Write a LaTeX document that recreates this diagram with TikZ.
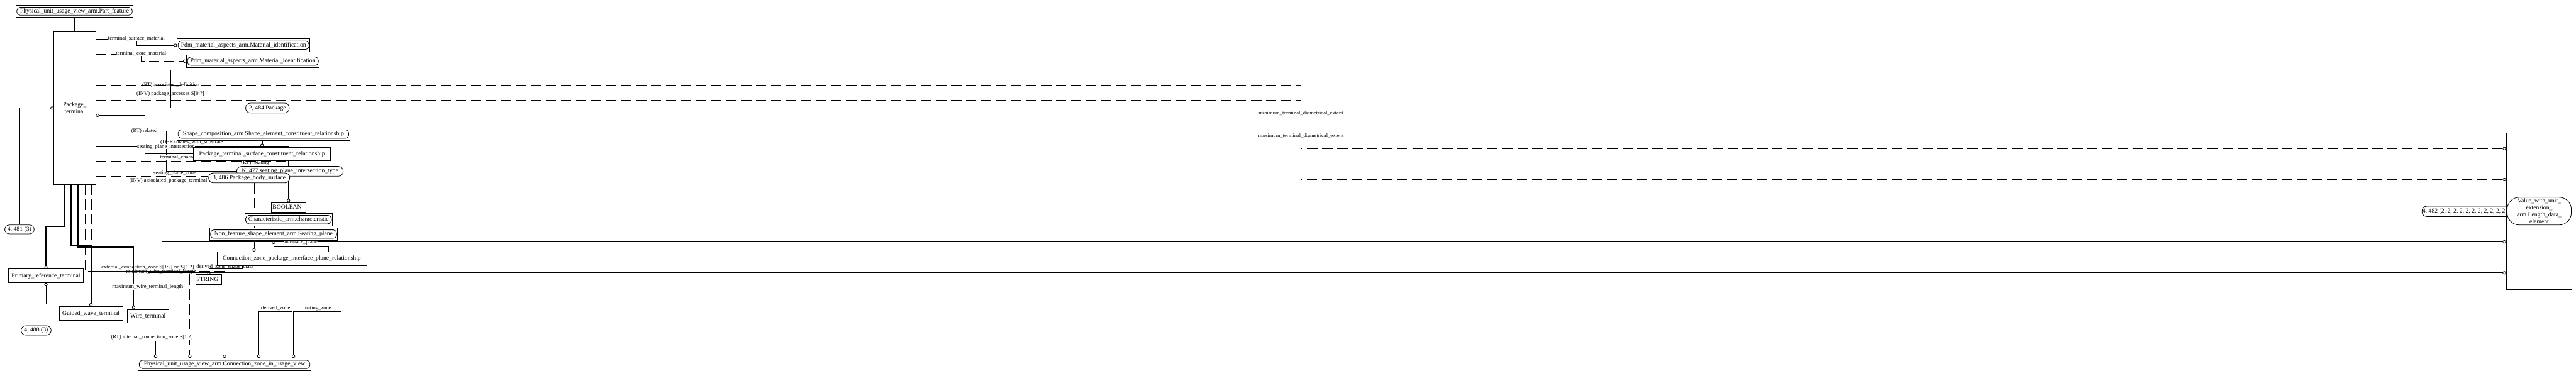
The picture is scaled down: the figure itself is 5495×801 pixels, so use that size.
\documentclass[tikz,border=0pt]{standalone}
\usepackage{fontspec}
\setmainfont{Liberation Serif}
\usetikzlibrary{arrows.meta,positioning}
\pgfdeclarelayer{bg}
\pgfsetlayers{bg,main}
\newcommand{\nodefont}{\fontsize{13}{15}\selectfont}
\newcommand{\lblfont}{\fontsize{11.5}{13}\selectfont}
\tikzset{
  ent/.style={draw, fill=white, line width=1.1pt, font=\nodefont, inner sep=1pt, align=center},
  refent/.style={ent, path picture={\draw[line width=1.1pt, rounded corners=7pt] ([xshift=2pt,yshift=-4.5pt]path picture bounding box.north west) rectangle ([xshift=-2pt,yshift=4.5pt]path picture bounding box.south east);}},
  pageref/.style={ent, rounded corners=10pt},
  simpletype/.style={ent, path picture={\draw[line width=1.1pt] ([xshift=-6pt]path picture bounding box.north east) -- ([xshift=-6pt]path picture bounding box.south east);}},
  rel/.style={line width=1.1pt},
  opt/.style={rel, dash pattern=on 22pt off 10pt},
  subt/.style={line width=2.4pt},
  oc/.style={-{Circle[open, length=7pt, line width=1.1pt]}},
  lbl/.style={font=\lblfont, inner sep=0.6pt, anchor=base, fill=white},
  lblx/.style={font=\lblfont, inner sep=0pt, anchor=base},
}

\begin{document}
\begin{tikzpicture}[x=1pt, y=-1pt]
  \useasboundingbox (0,0) rectangle (5495,801);

  % Package_terminal and its supertype
  \node[refent, minimum width=250pt, minimum height=26pt] (partfeat) at (159,24) {Physical\_unit\_usage\_view\_arm.Part\_feature};
  \node[ent, minimum width=89pt, minimum height=325pt] (pkgterm) at (159.5,230.5) {Package\_\\terminal};

  % referenced entities, upper part
  \node[refent, minimum width=283pt, minimum height=27pt] (pdmA) at (519.5,96.5) {Pdm\_material\_aspects\_arm.Material\_identification};
  \node[refent, minimum width=283pt, minimum height=27pt] (pdmB) at (539.5,130.5) {Pdm\_material\_aspects\_arm.Material\_identification};
  \node[pageref, minimum width=93pt, minimum height=21pt] (pkgref) at (570.5,230.5) {2, 484 Package};
  \node[refent, minimum width=368pt, minimum height=27pt] (shapecomp) at (562,286) {Shape\_composition\_arm.Shape\_element\_constituent\_relationship};
  \node[ent, minimum width=292pt, minimum height=29pt] (ptscr) at (559,328.5) {Package\_terminal\_surface\_constituent\_relationship};
  \node[pageref, minimum width=227pt, minimum height=21pt] (spit) at (618.5,365.5) {N\_477 seating\_plane\_intersection\_type};
  \node[pageref, minimum width=173pt, minimum height=21pt] (pbs) at (531.5,379.5) {3, 486 Package\_body\_surface};
  \node[simpletype, minimum width=73pt, minimum height=20pt] (boolean) at (615.5,442) {BOOLEAN\hspace{6pt}};
  \node[refent, minimum width=187pt, minimum height=27pt] (charac) at (615.5,468.5) {Characteristic\_arm.characteristic};
  \node[refent, minimum width=273pt, minimum height=27pt] (seatplane) at (583.5,499.5) {Non\_feature\_shape\_element\_arm.Seating\_plane};
  \node[ent, minimum width=319pt, minimum height=30pt] (czpipr) at (622.5,552) {Connection\_zone\_package\_interface\_plane\_relationship};
  \node[simpletype, minimum width=55pt, minimum height=21pt] (string) at (445.5,596.5) {STRING\hspace{6pt}};
  \node[refent, minimum width=368pt, minimum height=27pt] (czusage) at (479,777.5) {Physical\_unit\_usage\_view\_arm.Connection\_zone\_in\_usage\_view};

  % subtypes
  \node[ent, minimum width=160pt, minimum height=29pt] (primref) at (98,588.5) {Primary\_reference\_terminal};
  \node[ent, minimum width=136pt, minimum height=29pt] (guided) at (194,668.5) {Guided\_wave\_terminal};
  \node[ent, minimum width=89pt, minimum height=29pt] (wireterm) at (315.5,674.5) {Wire\_terminal};
  \node[pageref, minimum width=63pt, minimum height=19pt] (ref481) at (41.5,489.5) {4, 481 (3)};
  \node[pageref, minimum width=64pt, minimum height=20pt] (ref488) at (77,705) {4, 488 (3)};

  % length data element, far right
  \node[pageref, anchor=west, minimum height=22pt] (ref482) at (5166,451) {4, 482 (2, 2, 2, 2, 2, 2, 2, 2, 2, 2, 2, 2};
  \node[ent, minimum width=140pt, minimum height=333pt] (lengthbox) at (5416,450.5) {};
  \node[ent, rounded corners=26pt, minimum width=137pt, minimum height=59pt, inner sep=0pt] (lengthlbl) at (5416.5,450.5) {Value\_with\_unit\_\\extension\_\\arm.Length\_data\_\\element};

  \begin{pgfonlayer}{bg}
    % subtype lines
    \draw[subt] (pkgterm.north |- partfeat.south) -- (pkgterm.north);
    \draw[subt, oc] (ptscr.north |- shapecomp.south) -- (ptscr.north);
    \draw[subt, oc] (pkgterm.south -| 137,0) |- (98,483) -- (primref.north);
    \draw[subt, oc] (pkgterm.south -| 152,0) |- (194,523) -- (guided.north);
    \draw[subt, oc] (pkgterm.south -| 166,0) |- (285,527) -- (wireterm.north -| 285,0);

    % attributes of Package_terminal
    \draw[rel, oc] (pkgterm.east |- 0,84) -| (291,96.5) -- (pdmA.west);
    \draw[opt, oc] (pkgterm.east |- 0,116) -| (301,130.5) -- (pdmB.west);
    \draw[rel] (pkgterm.east |- 0,150) -| (364,230.5) -- (pkgref.west);
    \draw[opt, oc] (pkgterm.east |- 0,181) -| (2775,317) -- (lengthbox.west |- 0,317);
    \draw[opt, oc] (pkgterm.east |- 0,214) -| (2775,383) -- (lengthbox.west |- 0,383);
    \draw[rel, oc] (ref481.north) |- (pkgterm.west);
    \draw[rel, oc] (ptscr.west |- 0,328) -| (309,246) -- (pkgterm.east |- 0,246);
    \draw[rel] (pkgterm.east |- 0,279) -| (355,365.5) -- (spit.west);
    \draw[rel, oc] (pkgterm.east |- 0,312) -| (boolean.north);
    \coordinate (relj) at (615.5,344);
    \draw[opt] (pkgterm.east |- 0,344) -- (relj);
    \draw[opt] (pkgterm.east |- 0,376) -- (pbs.west |- 0,376);

    % surface and seating plane
    \draw[opt] (pbs.south -| 542,0) -- (charac.north -| 542,0);
    \draw[rel, oc] (charac.south -| 542,0) -- (czpipr.north -| 542,0);
    \draw[rel, oc] (czpipr.north -| 701,0) |- (583.5,526) -- (seatplane.south);

    % wire terminal lengths
    \draw[rel, oc] (wireterm.north -| 345,0) |- (lengthbox.west |- 0,516);
    \draw[rel, oc] (wireterm.north) |- (lengthbox.west |- 0,582);

    % connection zones
    \draw[opt, oc] (pkgterm.south -| 181,0) |- (405,579) -- (czusage.north -| 405,0);
    \draw[opt, oc] (pkgterm.south -| 195,0) |- (479,579) -- (czusage.north);
    \draw[rel, oc] (czpipr.south -| 517,0) |- (445.5,574) -- (string.north);
    \draw[rel, oc] (czpipr.south) |- (552,665) -- (czusage.north -| 552,0);
    \draw[rel, oc] (czpipr.south -| 728,0) |- (626,665) -- (czusage.north -| 626,0);
    \draw[rel, oc] (wireterm.south) |- (332,727) -- (czusage.north -| 332,0);
    \draw[rel, oc] (ref488.north) |- (98,649) -- (primref.south);

    % role labels
    \node[lbl] (lsurf) at (291,85) {terminal\_surface\_material};
    \node[lbl] (lcore) at (301,117) {terminal\_core\_material};
    \node[lblx] (ldef) at (364.5,184.5) {(RT) associated\_definition};
    \node[lblx] (lacc) at (363.5,203) {(INV) package\_accesses S[0:?]};
    \node[lbl] (lmind) at (2775,244.5) {minimum\_terminal\_diametrical\_extent};
    \node[lbl] (lmaxd) at (2775,293.5) {maximum\_terminal\_diametrical\_extent};
    \node[lblx] (lrel) at (308,282) {(RT) related};
    \node[lblx] (lmate) at (409,306) {(DER) mates\_with\_substrate};
    \node[lbl] (lspi) at (354,315.5) {seating\_plane\_intersection};
    \node[lbl, anchor=base west] (lchar) at (341,338.5) {terminal\_characteristic};
    \node[lblx] (lrelg) at (544,351) {(RT) relating};
    \node[lblx] (lzone) at (373,372) {seating\_plane\_zone};
    \node[lblx, anchor=base west] (lapt) at (276,389) {(INV) associated\_package\_terminal S[1:?]};
    \node[lbl] (lint) at (642,520) {interface\_plane};
    \node[lblx] (lext) at (315,574) {external\_connection\_zone S[1:?] ne S[1:?]};
    \node[lblx] (lminw) at (344,583) {minimum\_wire\_terminal\_length};
    \node[lblx] (lshape) at (480,572.5) {derived\_zone\_shape\_class};
    \node[lbl] (lmaxw) at (315,615.5) {maximum\_wire\_terminal\_length};
    \node[lbl] (linc) at (324,722) {(RT) internal\_connection\_zone S[1:?]};
    \node[lblx] (lder) at (588,661) {derived\_zone};
    \node[lblx] (lmat) at (677,661) {mating\_zone};
  \end{pgfonlayer}
\end{tikzpicture}
\end{document}
